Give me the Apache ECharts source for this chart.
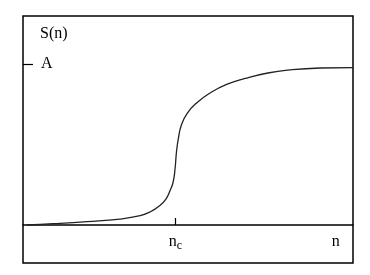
<!DOCTYPE html>
<html>
<head>
<meta charset="utf-8">
<script src="https://cdn.jsdelivr.net/npm/echarts@6/dist/echarts.min.js"></script>
<style>
html,body{margin:0;padding:0;background:#fff;}
#c{width:370px;height:275px;}
</style>
</head>
<body>
<div id="c"></div>
<script>
// n values (arbitrary units, axis spans 0..10) and S(n)/A values
const nValues = [0.12, 0.91, 1.94, 2.94, 3.55, 3.85, 4.15, 4.33, 4.45, 4.55, 4.61, 4.65, 4.71, 4.80, 4.97, 5.26, 5.67, 6.17, 6.73, 7.42, 8.09, 9.00, 10.0];
const sValues = [0.0, 0.008, 0.021, 0.037, 0.058, 0.081, 0.121, 0.161, 0.211, 0.267, 0.354, 0.453, 0.540, 0.621, 0.692, 0.758, 0.820, 0.873, 0.910, 0.944, 0.963, 0.975, 0.978];
const nc = 4.62;           // critical n (tick position)
const nLabelPos = 9.52;    // position of the "n" axis label
const aLevel = 1;          // level A
const xLabels = ['n_c', 'n'];
const yLabels = ['A'];

const FONT = '"Liberation Serif", "DejaVu Serif", serif';
const chart = echarts.init(document.getElementById('c'), null, {renderer: 'canvas'});
chart.setOption({
  animation: false,
  backgroundColor: '#fff',
  title: {
    text: 'S(n)', left: 35, top: 21,
    textStyle: {fontFamily: FONT, fontSize: 16, fontWeight: 'normal', color: '#000'}
  },
  grid: {left: 23, right: 17, top: 16, bottom: 12, show: true, borderColor: '#000', borderWidth: 1.5,
         backgroundColor: 'transparent', containLabel: false, outerBoundsMode: 'none'},
  xAxis: {
    type: 'value', min: 0, max: 10,
    splitLine: {show: false},
    axisLine: {show: true, onZero: true, lineStyle: {color: '#000', width: 1.5}},
    axisTick: {show: true, inside: true, length: 7, customValues: [nc], lineStyle: {color: '#000', width: 1.2}},
    axisLabel: {
      show: true, margin: -32, customValues: [nc, nLabelPos],
      formatter: function (v) { return Math.abs(v - nc) < 0.01 ? '{m|n}{s|c}' : '{m|n}{s| }'; },
      rich: {
        m: {fontFamily: FONT, fontSize: 16, color: '#000'},
        s: {fontFamily: FONT, fontSize: 12, color: '#000', padding: [9, 0, 0, 0]}
      }
    }
  },
  yAxis: {
    type: 'value', min: -0.236, max: 1.298,
    splitLine: {show: false},
    axisLine: {show: false},
    axisTick: {show: true, inside: true, length: 10, customValues: [aLevel], lineStyle: {color: '#000', width: 1.2}},
    axisLabel: {
      show: true, inside: true, margin: 18, customValues: [aLevel],
      formatter: function () { return yLabels[0]; },
      fontFamily: FONT, fontSize: 16, color: '#000'
    }
  },
  series: [{
    type: 'line',
    data: nValues.map((x, i) => [x, sValues[i]]),
    showSymbol: false,
    smooth: true,
    lineStyle: {color: '#222', width: 1.3}
  }]
});
</script>
</body>
</html>
